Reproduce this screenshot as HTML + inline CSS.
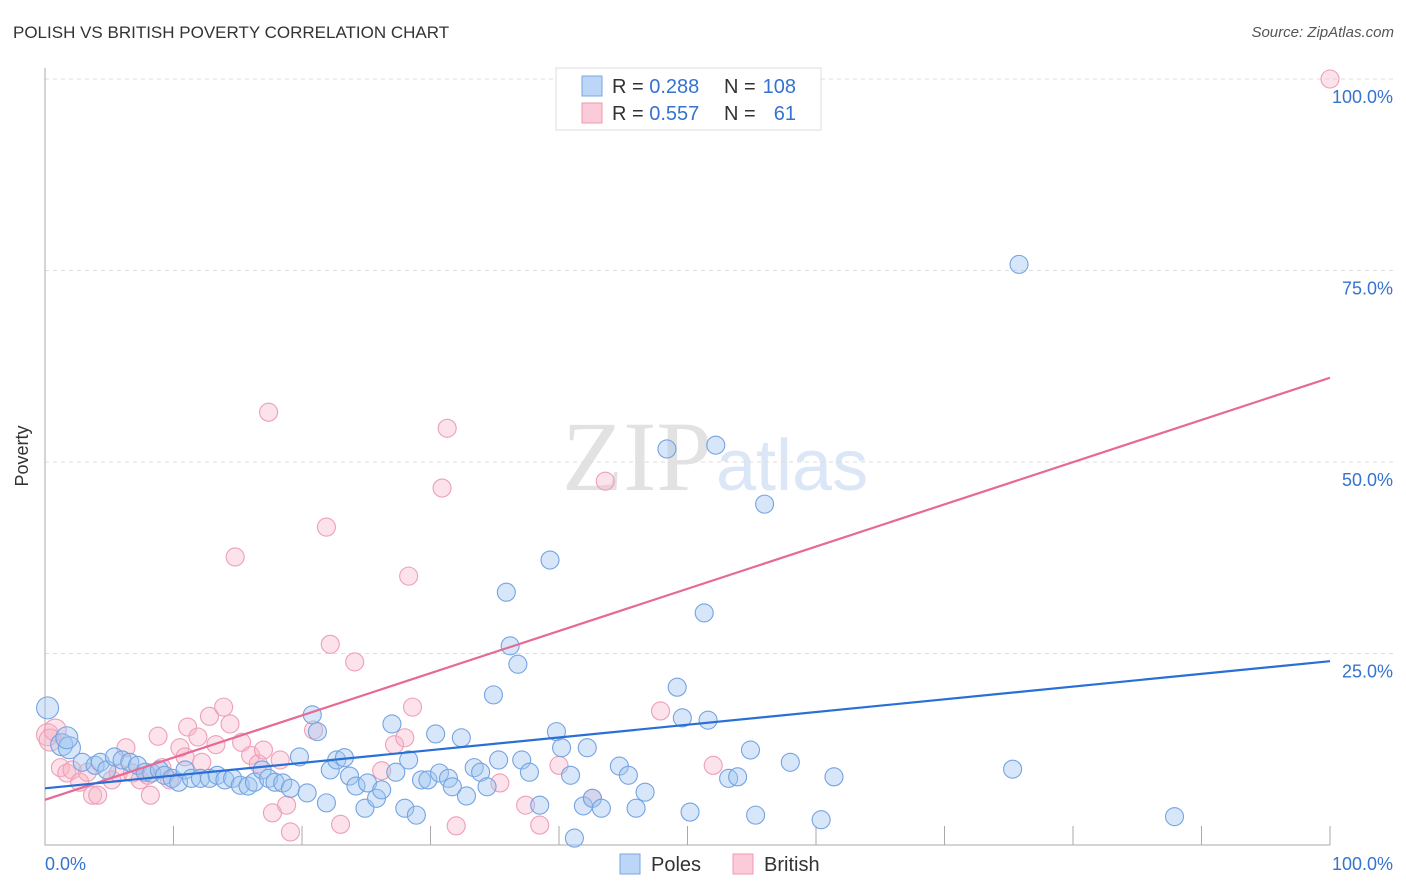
<!DOCTYPE html>
<html><head><meta charset="utf-8"><style>
body{margin:0;background:#fff;font-family:"Liberation Sans",sans-serif;}
#wrap{position:relative;width:1406px;height:892px;overflow:hidden;}
.t{position:absolute;white-space:nowrap;}
</style></head><body>
<div id="wrap">
<div class="t" style="left:13px;top:23px;font-size:17px;color:#333;">POLISH VS BRITISH POVERTY CORRELATION CHART</div>
<div class="t" style="right:12px;top:24px;font-size:15px;color:#555;font-style:italic;">Source: ZipAtlas.com</div>
<svg id="svg" width="1406" height="892" style="position:absolute;left:0;top:0">
<text x="712" y="490" text-anchor="end" font-family="Liberation Serif,serif" font-size="100" fill="#e2e2e2">ZIP</text>
<text x="716" y="490" font-family="Liberation Sans,sans-serif" font-size="72" fill="#dbe7f6">atlas</text>
<g id="grid"></g><g id="pts"></g><g id="lines"></g>
<text x="28" y="456" transform="rotate(-90 28 456)" text-anchor="middle" font-size="18" fill="#333">Poverty</text>
<g>
<rect x="556" y="68" width="265" height="62" fill="#fff" stroke="#ddd"/>
<rect x="582" y="76" width="20" height="20" fill="#bcd6f7" stroke="#7aa6e0"/>
<rect x="582" y="103" width="20" height="20" fill="#fccbd9" stroke="#ee9ab3"/>
<text x="612" y="93" font-size="20" fill="#333">R = <tspan fill="#3573d0">0.288</tspan></text>
<text x="724" y="93" font-size="20" fill="#333">N = </text>
<text x="796" y="93" font-size="20" fill="#3573d0" text-anchor="end">108</text>
<text x="612" y="120" font-size="20" fill="#333">R = <tspan fill="#3573d0">0.557</tspan></text>
<text x="724" y="120" font-size="20" fill="#333">N = </text>
<text x="796" y="120" font-size="20" fill="#3573d0" text-anchor="end">61</text>
</g>
<g>
<rect x="620" y="854" width="20" height="20" fill="#bcd6f7" stroke="#7aa6e0"/>
<text x="651" y="871" font-size="20" fill="#333">Poles</text>
<rect x="733" y="854" width="20" height="20" fill="#fccbd9" stroke="#ee9ab3"/>
<text x="764" y="871" font-size="20" fill="#333">British</text>
</g>
</svg>
</div>
<script>
const polesX=[0.2,1.3,1.9,1.7,2.9,3.9,4.3,4.8,5.4,6.0,6.6,7.2,7.8,8.3,8.9,9.3,9.9,10.4,10.9,11.4,12.1,12.8,13.4,14.0,14.6,15.2,15.8,16.3,16.9,17.4,17.9,18.5,19.1,19.8,20.4,20.8,21.2,21.9,22.2,22.7,23.3,23.7,24.2,24.9,25.1,25.8,26.2,27.0,27.3,28.0,28.3,28.9,29.3,29.8,30.4,30.7,31.4,31.7,32.4,32.8,33.4,33.9,34.4,34.9,35.3,35.9,36.2,36.8,37.1,37.7,38.5,39.3,39.8,40.2,40.9,41.2,41.9,42.2,42.6,43.3,44.7,45.4,46.0,46.7,48.4,49.2,49.6,50.2,51.3,51.6,52.2,53.2,53.9,54.9,55.3,56.0,58.0,60.4,61.4,75.3,75.8,87.9];
const polesY=[17.9,13.1,12.7,14.0,10.8,10.4,10.8,9.8,11.5,11.1,10.8,10.4,9.5,9.4,9.8,9.1,8.7,8.2,9.8,8.7,8.7,8.7,9.1,8.5,8.7,7.8,7.7,8.2,9.8,8.7,8.2,8.1,7.4,11.5,6.8,17.0,14.8,5.5,9.8,11.1,11.4,9.0,7.7,4.8,8.1,6.1,7.2,15.8,9.5,4.8,11.1,3.9,8.5,8.5,14.5,9.4,8.7,7.6,14.0,6.4,10.1,9.5,7.6,19.6,11.1,33.0,26.0,23.6,11.1,9.5,5.2,37.2,14.8,12.7,9.1,0.9,5.1,12.7,6.1,4.8,10.3,9.1,4.8,6.9,51.7,20.6,16.6,4.3,30.3,16.3,52.2,8.7,8.9,12.4,3.9,44.5,10.8,3.3,8.9,9.9,75.8,3.7];
const britX=[0.2,0.4,0.8,1.2,1.7,2.1,2.7,3.3,3.7,4.1,5.2,5.7,6.3,6.8,7.4,8.0,8.2,8.8,9.1,9.7,10.5,10.9,11.1,11.9,12.2,12.8,13.3,13.9,14.4,14.8,15.3,16.0,16.6,17.0,17.4,17.7,18.3,18.8,19.1,20.9,21.9,22.2,23.0,24.1,26.2,27.2,28.0,28.3,28.6,30.9,31.3,32.0,35.4,37.4,38.5,40.0,42.6,43.6,47.9,52.0,100];
const britY=[14.4,13.7,15.0,10.1,9.4,9.8,8.2,9.5,6.5,6.5,8.5,9.4,12.7,9.4,8.5,9.1,6.5,14.2,10.1,8.5,12.7,11.5,15.4,14.1,10.8,16.8,13.1,18.0,15.8,37.6,13.4,11.7,10.6,12.4,56.5,4.2,11.1,5.2,1.7,15.0,41.5,26.2,2.7,23.9,9.7,13.1,14.0,35.1,18.0,46.6,54.4,2.5,8.1,5.2,2.6,10.4,6.1,47.5,17.5,10.4,100];
const polesTrend=[7.4,24.0];
const britTrend=[5.9,61.0];
const yTicks=[25,50,75,100];
const yTickLabels=["25.0%","50.0%","75.0%","100.0%"];
const xTicks=[10,20,30,40,50,60,70,80,90,100];

const NS="http://www.w3.org/2000/svg";
const X=v=>45+v*12.85, Y=v=>845-v*7.66;
function mk(tag,attrs,parent){const e=document.createElementNS(NS,tag);for(const k in attrs)e.setAttribute(k,attrs[k]);parent.appendChild(e);return e;}
const grid=document.getElementById('grid'),pts=document.getElementById('pts'),lines=document.getElementById('lines');
yTicks.forEach((t,i)=>{
 const l=mk('line',{x1:45,x2:1395,y1:Y(t),y2:Y(t),stroke:'#ddd','stroke-dasharray':'4 4'},grid);
 
 
 const tx=mk('text',{x:1393,y:Y(t)+24,'text-anchor':'end','font-size':'18',fill:'#3573d0'},grid);
 tx.textContent=yTickLabels[i];
 
 
});
xTicks.forEach(t=>{
 const l=mk('line',{x1:X(t),x2:X(t),y1:826,y2:845,stroke:'#aaa'},grid);
 
 
});
const ax=mk('path',{d:'M45 68V845H1330',stroke:'#aaa',fill:'none'},grid);


[["0.0%",45,'start'],["100.0%",1393,'end']].forEach(a=>{
 const tx=mk('text',{x:a[1],y:870,'text-anchor':a[2],'font-size':'18',fill:'#3573d0'},grid);
 tx.textContent=a[0];
 
 
});
britX.forEach((v,i)=>{
 const c=mk('circle',{cx:X(v),cy:Y(britY[i]),r:v<1?11:9,fill:'rgba(248,180,200,0.38)',stroke:'#ee9fb6','stroke-width':1.1},pts);
 
 
});
polesX.forEach((v,i)=>{
 const c=mk('circle',{cx:X(v),cy:Y(polesY[i]),r:v<2?11:9,fill:'rgba(160,198,240,0.42)',stroke:'#74a3e2','stroke-width':1.1},pts);
 
 
});
const bl=mk('line',{x1:X(0),y1:Y(britTrend[0]),x2:X(100),y2:Y(britTrend[1]),stroke:'#e66a93','stroke-width':2.2},lines);


const pl=mk('line',{x1:X(0),y1:Y(polesTrend[0]),x2:X(100),y2:Y(polesTrend[1]),stroke:'#2a6fd6','stroke-width':2.2},lines);


</script>
</body></html>
